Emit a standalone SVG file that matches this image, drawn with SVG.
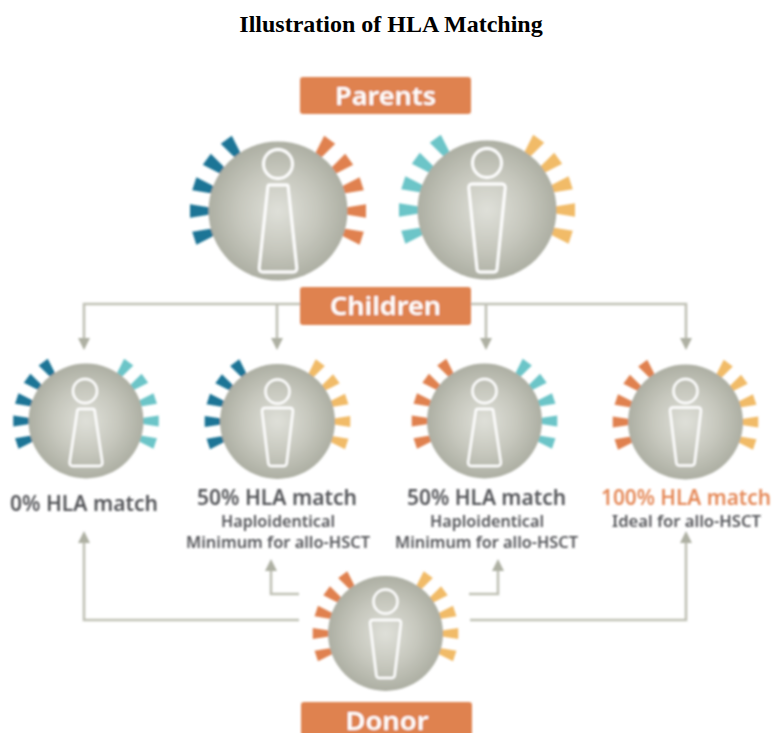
<svg xmlns="http://www.w3.org/2000/svg" width="773" height="733" viewBox="0 0 773 733">
<style>
.title{font:bold 24px "Liberation Serif",serif;fill:#000;text-anchor:middle}
.bar{fill:#df824f}
.bt{font:600 25px "Noto Sans","Open Sans",sans-serif;fill:#fff;text-anchor:middle}
.h{font:600 21px "Noto Sans","Open Sans",sans-serif;fill:#55565a;text-anchor:middle}
.s{font:600 15.5px "Noto Sans","Open Sans",sans-serif;fill:#55565a;text-anchor:middle}
.fig{fill:none;stroke:#fff;stroke-width:2.8;stroke-linejoin:round}
.small{stroke-width:2.4}
.conn{fill:none;stroke:#c0c1b5;stroke-width:2.6}
.head{fill:#aeb0a3}
.navy{fill:#1f7596}.org{fill:#e0814f}.aqua{fill:#6cc5c8}.gold{fill:#f1bb68}
</style>
<defs>
<radialGradient id="g"><stop offset="0" stop-color="#dfe0d9"/><stop offset="0.55" stop-color="#c7c8be"/><stop offset="1" stop-color="#adafa3"/></radialGradient>
<filter id="soft" x="-5%" y="-5%" width="110%" height="110%"><feGaussianBlur stdDeviation="0.8"/></filter>
<path id="t" d="M-68,-3.600L-88,-6.800L-88,6.800L-68,3.600Z"/>
<g id="ticks">
<use href="#t" transform="rotate(-18)"/><use href="#t"/><use href="#t" transform="rotate(18)"/><use href="#t" transform="rotate(36)"/><use href="#t" transform="rotate(54)"/>
</g>
<circle id="disc" r="69.5" fill="url(#g)"/>
<path id="m" class="fig" d="M-9,-26L9,-26Q10,-26 10.2,-24L18.8,57Q19,61 15,61L-15,61Q-19,61 -18.8,57L-10.2,-24Q-10,-26 -9,-26Z"/>
<path id="f" class="fig" d="M-15,-26L15,-26Q18.5,-26 18.2,-22L10,59Q9.8,62 7,62L-7,62Q-9.8,62 -10,59L-18.2,-22Q-18.5,-26 -15,-26Z"/>
<path id="cm" class="fig small" d="M-7,-12L7,-12Q8.500,-12 8.700,-10L16.300,41Q16.700,45 13,45L-13,45Q-16.700,45 -16.300,41L-8.700,-10Q-8.500,-12 -7,-12Z"/>
<path id="cf" class="fig small" d="M-12.500,-13.500L12.500,-13.500Q15.700,-13.500 15.400,-10L9.200,41.500Q9,44.500 6.500,44.500L-6.500,44.500Q-9,44.500 -9.200,41.500L-15.400,-10Q-15.700,-13.500 -12.500,-13.500Z"/>
<circle id="ch" class="fig small" cy="-30" r="12"/>
</defs>
<text class="title" x="391" y="32">Illustration of HLA Matching</text>
<g filter="url(#soft)">
<g id="connectors">
<path class="conn" d="M84,340V304H686V340M277,304V340M486,304V340"/>
<path class="conn" d="M299,620H84V540M470,620H686V540M299,594H271V568M469,594H498V568"/>
<path class="head" d="M78,338H90L84,350ZM271,338H283L277,350ZM480,338H492L486,350ZM680,338H692L686,350Z"/>
<path class="head" d="M78,543H90L84,531ZM680,543H692L686,531ZM265,571H277L271,559ZM492,571H504L498,559Z"/>
</g>
<g id="parents"><rect class="bar" x="300" y="77" width="171" height="37" rx="3"/><text class="bt" x="385.500" y="105" textLength="101" lengthAdjust="spacingAndGlyphs">Parents</text></g>
<g id="children"><rect class="bar" x="300" y="287" width="171" height="38" rx="3"/><text class="bt" x="385.500" y="315" textLength="111" lengthAdjust="spacingAndGlyphs">Children</text></g>
<g id="donor"><rect class="bar" x="301" y="702" width="171" height="34" rx="3"/><text class="bt" x="387" y="730" textLength="83" lengthAdjust="spacingAndGlyphs">Donor</text></g>
<g id="parent1" transform="translate(278 211)"><use href="#ticks" class="navy"/><use href="#ticks" class="org" transform="scale(-1 1)"/><use href="#disc"/><circle class="fig" cy="-47" r="14.5"/><use href="#m"/></g>
<g id="parent2" transform="translate(487 210)"><use href="#ticks" class="aqua"/><use href="#ticks" class="gold" transform="scale(-1 1)"/><use href="#disc"/><circle class="fig" cy="-47" r="14.5"/><use href="#f"/></g>
<g id="child1">
<g transform="translate(86 421)"><g transform="scale(.827)"><use href="#ticks" class="navy"/><use href="#ticks" class="aqua" transform="scale(-1 1)"/><use href="#disc"/></g><use href="#ch" x="-1"/><use href="#cm"/></g>
<text class="h" x="84" y="511" textLength="148" lengthAdjust="spacingAndGlyphs">0% HLA match</text></g>
<g id="child2">
<g transform="translate(277.500 421.500)"><g transform="scale(.827)"><use href="#ticks" class="navy"/><use href="#ticks" class="gold" transform="scale(-1 1)"/><use href="#disc"/></g><use href="#ch"/><use href="#cf"/></g>
<text class="h" x="277" y="505" textLength="160" lengthAdjust="spacingAndGlyphs">50% HLA match</text>
<text class="s" x="278" y="527" textLength="114" lengthAdjust="spacingAndGlyphs">Haploidentical</text>
<text class="s" x="278" y="548" textLength="184" lengthAdjust="spacingAndGlyphs">Minimum for allo-HSCT</text></g>
<g id="child3">
<g transform="translate(484.500 421)"><g transform="scale(.827)"><use href="#ticks" class="org"/><use href="#ticks" class="aqua" transform="scale(-1 1)"/><use href="#disc"/></g><use href="#ch"/><use href="#cm"/></g>
<text class="h" x="486.500" y="505" textLength="159" lengthAdjust="spacingAndGlyphs">50% HLA match</text>
<text class="s" x="487" y="527" textLength="114" lengthAdjust="spacingAndGlyphs">Haploidentical</text>
<text class="s" x="486.500" y="548" textLength="183" lengthAdjust="spacingAndGlyphs">Minimum for allo-HSCT</text></g>
<g id="child4">
<g transform="translate(685.500 422)"><g transform="scale(.827)"><use href="#ticks" class="org"/><use href="#ticks" class="gold" transform="scale(-1 1)"/><use href="#disc"/></g><use href="#ch" y="-1"/><use href="#cf" y="-1"/></g>
<text class="h" x="686" y="505" textLength="170" lengthAdjust="spacingAndGlyphs" style="fill:#e58a5a">100% HLA match</text>
<text class="s" x="686.500" y="527" textLength="149" lengthAdjust="spacingAndGlyphs">Ideal for allo-HSCT</text></g>
<g id="donor-figure" transform="translate(385.500 633.500)"><g transform="scale(.827)"><use href="#ticks" class="org"/><use href="#ticks" class="gold" transform="scale(-1 1)"/><use href="#disc"/></g><use href="#ch" y="-2"/><use href="#cf"/></g>
</g>
</svg>
